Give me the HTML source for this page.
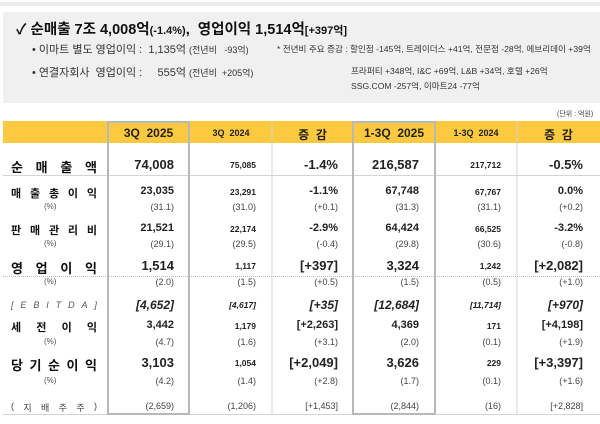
<!DOCTYPE html>
<html><head><meta charset="utf-8"><style>
body{margin:0;width:600px;height:424px;background:#fff;position:relative;overflow:hidden;font-family:"Liberation Sans","Noto Sans CJK KR",sans-serif;color:#222}
.a{position:absolute;white-space:nowrap}
.r{position:absolute;text-align:right;white-space:nowrap}
.c{position:absolute;text-align:center;white-space:nowrap}
.b{font-weight:bold}
.l{position:absolute;display:flex;justify-content:space-between;left:11px;width:86px}
</style></head><body>
<div class="a" style="left:0;top:2px;width:600px;height:4px;background:#ececec"></div>
<div class="a" style="left:3px;top:12px;width:597px;height:91px;background:#f0f0f0"></div>
<div class="a b" style="left:16px;top:18px;font-size:14.5px;color:#111">✓ 순매출 7조 4,008억<span style="font-size:11px">(-1.4%)</span>,&nbsp; 영업이익 1,514억<span style="font-size:11px">[+397억]</span></div>
<div class="a" style="left:32px;top:41px;font-size:11px;color:#333">• 이마트 별도 영업이익 :&nbsp; 1,135억 <span style="font-size:9px">(전년비 &nbsp; -93억)</span></div>
<div class="a" style="left:32px;top:64px;font-size:11px;color:#333">• 연결자회사&nbsp; 영업이익 : &nbsp;&nbsp;&nbsp; 555억 <span style="font-size:9px">(전년비 &nbsp;+205억)</span></div>
<div class="a" style="left:277px;top:43px;font-size:8.6px;color:#333">* 전년비 주요 증감 : 할인점 -145억, 트레이더스 +41억, 전문점 -28억, 에브리데이 +39억</div>
<div class="a" style="left:351px;top:65px;font-size:8.6px;color:#333">프라퍼티 +348억, I&amp;C +69억, L&amp;B +34억, 호텔 +26억</div>
<div class="a" style="left:351px;top:80px;font-size:8.6px;color:#333">SSG.COM -257억, 이마트24 -77억</div>
<div class="a" style="left:557px;top:109px;font-size:7px;color:#444">(단위 : 억원)</div>
<div class="a" style="left:3px;top:121px;width:597px;height:22px;background:#fcc93f"></div>
<svg class="a" style="left:0;top:0" width="600" height="424">
<g stroke="#d4d4d4" stroke-width="1">
<line x1="272" y1="121" x2="272" y2="414"/><line x1="517" y1="121" x2="517" y2="414"/>
<line x1="3" y1="175.5" x2="600" y2="175.5"/><line x1="3" y1="414.5" x2="600" y2="414.5"/>
</g>
<line x1="3" y1="276.5" x2="600" y2="276.5" stroke="#bbb" stroke-dasharray="1,1"/>
<g fill="none" stroke="#b8b8b8" stroke-width="2">
<rect x="108" y="122" width="81" height="292"/><rect x="353" y="122" width="82" height="292"/>
</g>
</svg>
<div class="c b" style="left:108px;width:81px;top:126px;font-size:12px">3Q&nbsp; 2025</div>
<div class="c b" style="left:190px;width:82px;top:128px;font-size:9px">3Q&nbsp; 2024</div>
<div class="c b" style="left:272px;width:81px;top:126px;font-size:12px">증&nbsp; 감</div>
<div class="c b" style="left:353px;width:82px;top:126px;font-size:12px">1-3Q&nbsp; 2025</div>
<div class="c b" style="left:435px;width:82px;top:128px;font-size:9px">1-3Q&nbsp; 2024</div>
<div class="c b" style="left:517px;width:83px;top:126px;font-size:12px">증&nbsp; 감</div>

<div id="t"></div>
<script>
var rows=[
[157,"순매출액",13,["74,008","75,085","-1.4%","216,587","217,712","-0.5%"],1,""],
[185,"매출총이익",11,["23,035","23,291","-1.1%","67,748","67,767","0.0%"],1,""],
[202,"(%)",0,["(31.1)","(31.0)","(+0.1)","(31.3)","(31.1)","(+0.2)"],0,""],
[222,"판매관리비",11,["21,521","22,174","-2.9%","64,424","66,525","-3.2%"],1,""],
[239,"(%)",0,["(29.1)","(29.5)","(-0.4)","(29.8)","(30.6)","(-0.8)"],0,""],
[258,"영업이익",13,["1,514","1,117","[+397]","3,324","1,242","[+2,082]"],1,""],
[277,"(%)",0,["(2.0)","(1.5)","(+0.5)","(1.5)","(0.5)","(+1.0)"],0,""],
[298,"[EBITDA]",9,["[4,652]","[4,617]","[+35]","[12,684]","[11,714]","[+970]"],1,"i"],
[319,"세전이익",11,["3,442","1,179","[+2,263]","4,369","171","[+4,198]"],1,""],
[337,"(%)",0,["(4.7)","(1.6)","(+3.1)","(2.0)","(0.1)","(+1.9)"],0,""],
[355,"당기순이익",13,["3,103","1,054","[+2,049]","3,626","229","[+3,397]"],1,""],
[376,"(%)",0,["(4.2)","(1.4)","(+2.8)","(1.7)","(0.1)","(+1.6)"],0,""],
[401,"(지배주주)",9.5,["(2,659)","(1,206)","[+1,453]","(2,844)","(16)","[+2,828]"],0,"p"]];
var rights=[174,256,338,419,501,583];
var h="";
rows.forEach(function(r){
 var big=r[2]==13;
 if(r[1]=="(%)") h+='<div class="a" style="left:44px;top:'+r[0]+'px;font-size:8px;color:#555">(%)</div>';
 else {
  var chars=Array.from(r[1]).map(function(ch){return '<span>'+ch+'</span>';}).join('');
  var st;
  if(r[5]=="i") st='font-size:9px;color:#555;font-style:italic;top:'+(r[0]+2)+'px';
  else if(r[5]=="p") st='font-size:9px;color:#444;top:'+r[0]+'px';
  else st='font-weight:bold;font-size:'+(big?13:11)+'px;color:#111;top:'+r[0]+'px';
  h+='<div class="l" style="'+st+'">'+chars+'</div>';
 }
 r[3].forEach(function(v,i){
  var fs;
  if(r[4]){ fs=(i==1||i==4)?8.5:(big?13:11); if(r[5]=="i"&&!(i==1||i==4)) fs=12;}
  else fs=9;
  var style='font-size:'+fs+'px;'+(r[4]?'font-weight:bold;':'color:#444;')+(r[5]=="i"?'font-style:italic;':'');
  var top=r[0]+(r[4]&&fs<10?(big?3:2):0);
  h+='<div class="r" style="right:'+(600-rights[i])+'px;top:'+top+'px;'+style+'">'+v+'</div>';
 });
});
document.getElementById('t').innerHTML=h;
</script>
</body></html>
